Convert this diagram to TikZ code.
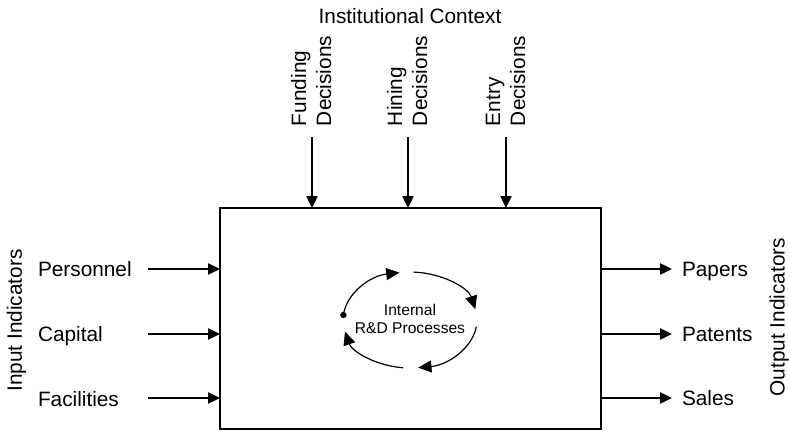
\documentclass[tikz,border=0pt]{standalone}
\usepackage{fontspec}
\setmainfont{Liberation Sans}
\usetikzlibrary{arrows.meta}
\begin{document}
\begin{tikzpicture}[x=0.75pt,y=0.75pt,
  every node/.style={inner sep=0pt,outer sep=0pt},
  lbl/.style={font=\fontsize{15.6}{18.7}\selectfont},
  small/.style={font=\fontsize{11.7}{14}\selectfont},
  arr/.style={line width=0.9pt,-{Triangle[length=9pt,width=8.5pt]}},
  cyc/.style={line width=0.9pt,-{Triangle[length=10pt,width=9pt]}},
  mainbox/.style={draw,line width=0.9pt,minimum width=285.75pt,minimum height=165.75pt}]
\useasboundingbox (0,0) rectangle (789,430);
% main box
\node[mainbox] (box) at (410.5,111.5) {};
% top
\node[lbl,anchor=base] (ctx) at (410,407) {Institutional Context};
\node[lbl,rotate=90,anchor=base west] (f1) at (306,304) {Funding};
\node[lbl,rotate=90,anchor=base west] (f2) at (331,304) {Decisions};
\node[lbl,rotate=90,anchor=base west] (h1) at (402,304) {Hining};
\node[lbl,rotate=90,anchor=base west] (h2) at (427,304) {Decisions};
\node[lbl,rotate=90,anchor=base west] (e1) at (500,304) {Entry};
\node[lbl,rotate=90,anchor=base west] (e2) at (525,304) {Decisions};
\coordinate (fa) at (312,293);
\coordinate (ha) at (408,293);
\coordinate (ea) at (506,293);
\draw[arr] (fa) -- (fa |- box.north);
\draw[arr] (ha) -- (ha |- box.north);
\draw[arr] (ea) -- (ea |- box.north);
% left
\node[lbl,rotate=90,anchor=base] (inind) at (22,109.5) {Input Indicators};
\node[lbl,anchor=base west] (pers) at (38,153.5) {Personnel};
\node[lbl,anchor=base west] (capi) at (38,88.3) {Capital};
\node[lbl,anchor=base west] (faci) at (38,23.3) {Facilities};
\coordinate (pa) at (148,161);
\coordinate (ca) at (148,96);
\coordinate (fca) at (148,32);
\draw[arr] (pa) -- (pa -| box.west);
\draw[arr] (ca) -- (ca -| box.west);
\draw[arr] (fca) -- (fca -| box.west);
% right
\node[lbl,rotate=90,anchor=base] (outind) at (784.5,113) {Output Indicators};
\node[lbl,anchor=base west] (pap) at (682,153.3) {Papers};
\node[lbl,anchor=base west] (pat) at (682,89) {Patents};
\node[lbl,anchor=base west] (sal) at (682,24.3) {Sales};
\coordinate (pe) at (672,161);
\coordinate (pte) at (672,96);
\coordinate (se) at (672,32);
\draw[arr] (pe -| box.east) -- (pe);
\draw[arr] (pte -| box.east) -- (pte);
\draw[arr] (se -| box.east) -- (se);
% cycle
\coordinate (c) at (410,110);
\node[small,anchor=base] (int1) at (410,115) {Internal};
\node[small,anchor=base] (int2) at (410,96.7) {R\&D Processes};
\fill ([shift={(174:67 and 48)}]c) circle[radius=3.2];
\draw[cyc] ([shift={(174:67 and 48)}]c) arc[start angle=174,end angle=99,x radius=67,y radius=48];
\draw[cyc] ([shift={(87:67 and 48)}]c) arc[start angle=87,end angle=13,x radius=67,y radius=48];
\draw[cyc] ([shift={(-8:67 and 48)}]c) arc[start angle=-8,end angle=-83,x radius=67,y radius=48];
\draw[cyc] ([shift={(-96:67 and 48)}]c) arc[start angle=-96,end angle=-166,x radius=67,y radius=48];
\end{tikzpicture}
\end{document}
